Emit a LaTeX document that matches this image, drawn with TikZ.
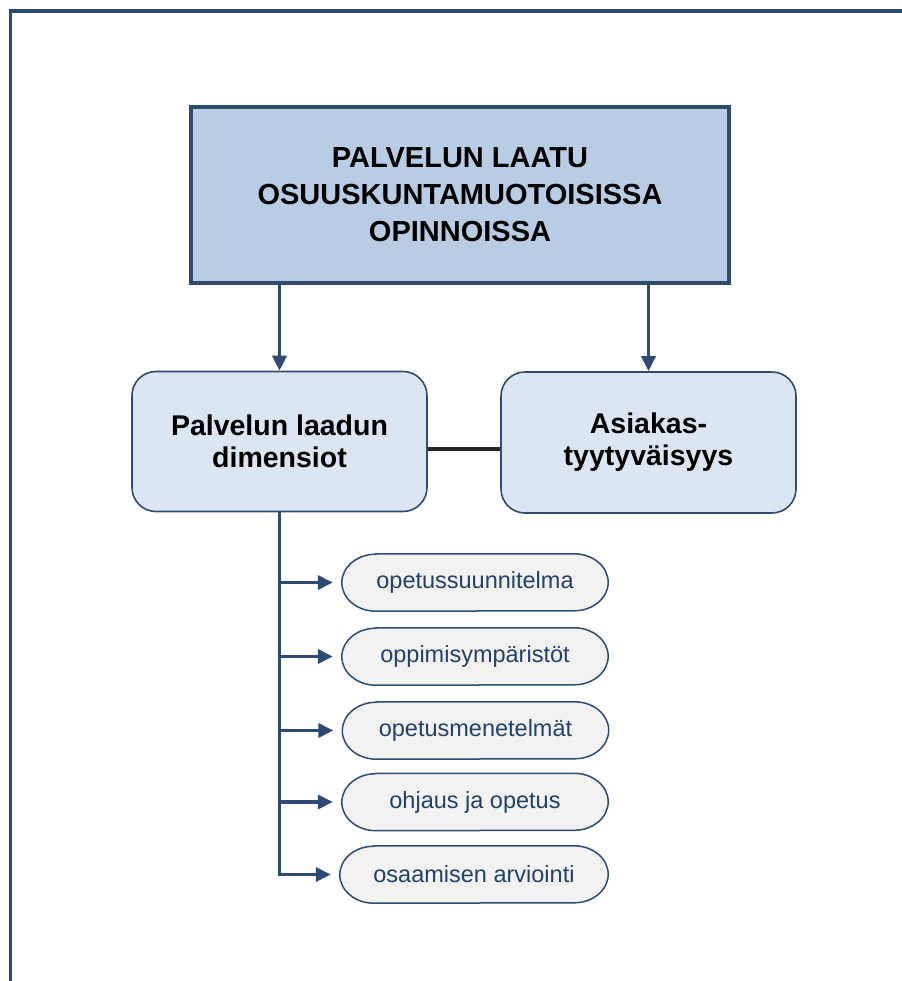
\documentclass[tikz,border=0pt]{standalone}
\usepackage{fontspec}
\setmainfont{Liberation Sans}
\usetikzlibrary{arrows.meta,backgrounds}

\definecolor{frameblue}{HTML}{2E4A70}
\definecolor{edgeblue}{HTML}{2F4B6E}
\definecolor{titlefill}{HTML}{B8CCE4}
\definecolor{boxfill}{HTML}{DCE6F2}
\definecolor{pillfill}{HTML}{F2F2F2}
\definecolor{pilltext}{HTML}{23406A}
\definecolor{linkgrey}{HTML}{262626}

\tikzset{
  titlebox/.style={draw=edgeblue, line width=3.5pt, fill=titlefill,
    minimum width=538pt, minimum height=176pt, align=center,
    font=\fontsize{29}{37}\selectfont\bfseries},
  mainbox/.style={draw=edgeblue, line width=1.6pt, fill=boxfill,
    rounded corners=24pt, minimum width=295pt, minimum height=140pt,
    align=center, font=\fontsize{28.5}{32}\selectfont\bfseries},
  pill/.style={rectangle, minimum width=266pt, minimum height=57pt,
    inner sep=0pt, text=pilltext, font=\fontsize{23.5}{26}\selectfont},
  pilledge/.style={draw=edgeblue, line width=1.5pt, fill=pillfill},
  flow/.style={draw=frameblue, line width=3.5pt,
    -{Triangle[length=15pt,width=14pt]}},
  trunk/.style={draw=frameblue, line width=3.5pt},
}

\begin{document}
\begin{tikzpicture}[x=1pt,y=-1pt]
  \useasboundingbox (0,0) rectangle (901,981);

  % outer frame, running off the right and bottom edges
  \draw[frameblue, line width=3.8pt] (10.5,11) rectangle (920,1000);

  % top heading
  \node[titlebox] (title) at (460,195) {PALVELUN LAATU\\OSUUSKUNTAMUOTOISISSA\\OPINNOISSA};

  % the two main concepts
  \node[mainbox] (dims) at (279.5,441.5) {Palvelun laadun\\dimensiot};
  \node[mainbox, minimum height=141pt] (cust) at (648.5,442.5) {Asiakas-\\tyytyväisyys};

  \draw[flow] (title.south -| dims.north) -- (dims.north);
  \draw[flow] (title.south -| cust.north) -- (cust.north);

  % link between the concepts
  \coordinate (linky) at (0,449);
  \draw[linkgrey, line width=3.8pt] (dims.east |- linky) -- (cust.west |- linky);

  % dimensions of service quality
  \node[pill] (p1) at (475,582.5) {opetussuunnitelma};
  \node[pill] (p2) at (475,656.5) {oppimisympäristöt};
  \node[pill] (p3) at (475.5,730.5) {opetusmenetelmät};
  \node[pill] (p4) at (475,802) {ohjaus ja opetus};
  \node[pill, minimum width=268pt] (p5) at (474,874.5) {osaamisen arviointi};

  % capsule outlines with slightly elliptical ends
  \begin{pgfonlayer}{background}
    \foreach \p in {p1,p2,p3,p4,p5}
      \path[pilledge] ([xshift=34pt]\p.north west) -- ([xshift=-34pt]\p.north east)
        arc[start angle=90, end angle=-90, x radius=34pt, y radius=28.5pt]
        -- ([xshift=34pt]\p.south west)
        arc[start angle=-90, end angle=-270, x radius=34pt, y radius=28.5pt]
        -- cycle;
  \end{pgfonlayer}

  \coordinate (tend) at ([yshift=1.75pt]dims.south |- p5.west);
  \draw[trunk] (dims.south) -- (tend);
  \foreach \p in {p1,p2,p3,p4,p5}
    \draw[flow] ([xshift=-1.75pt]dims.south |- \p.west) -- ([xshift=-9pt]\p.west);
\end{tikzpicture}
\end{document}
